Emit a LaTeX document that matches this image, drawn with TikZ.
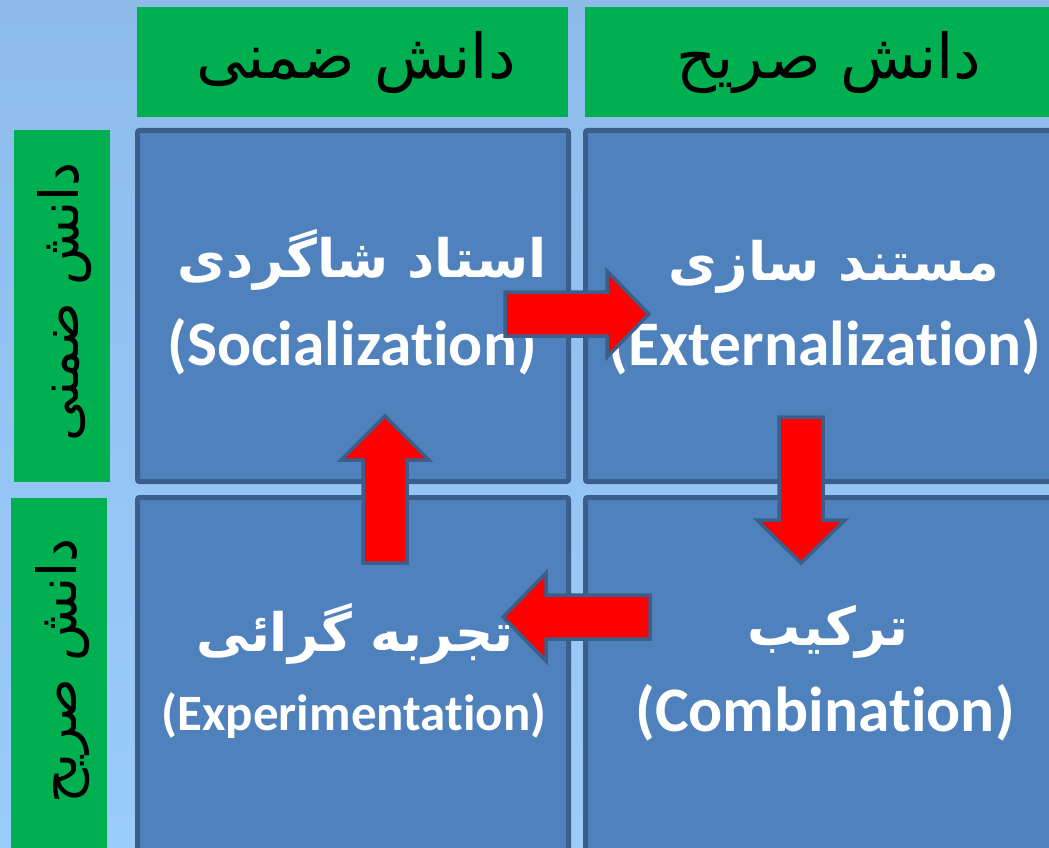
\documentclass[tikz,border=0pt]{standalone}
\usepackage{fontspec}
\TeXXeTstate=1
\newfontfamily\fafont[Script=Arabic]{DejaVu Sans}
\newfontfamily\enfont[Ligatures=NoCommon]{Carlito}
\definecolor{bgtop}{HTML}{8DBCEB}
\definecolor{bgbot}{HTML}{9ACCFA}
\definecolor{hdrgreen}{HTML}{00B050}
\definecolor{cellblue}{HTML}{4F81BD}
\definecolor{cellborder}{HTML}{3A5F8B}
\definecolor{arrowred}{HTML}{FF0000}
\tikzset{
  hdrbox/.style={fill=hdrgreen, draw=none},
  cellbox/.style={fill=cellblue, draw=cellborder, line width=5pt, rounded corners=2pt},
  hdrtext/.style={anchor=base, text=black, inner sep=0pt, font=\fafont\fontsize{62}{66}\selectfont},
  sidetext/.style={anchor=base, text=black, inner sep=0pt, rotate=90, font=\fafont\fontsize{54}{58}\selectfont},
  fatext/.style={anchor=base, text=white, inner sep=0pt, font=\fafont\bfseries\fontsize{53}{58}\selectfont},
  entext/.style={anchor=base, text=white, inner sep=0pt, font=\enfont\bfseries\fontsize{63.5}{68}\selectfont},
  ensmall/.style={anchor=base, text=white, inner sep=0pt, font=\enfont\bfseries\fontsize{51}{55}\selectfont},
  blockarrow/.style={fill=arrowred, draw=cellborder, line width=3.5pt, miter limit=10}
}
\begin{document}
\begin{tikzpicture}[x=1pt,y=-1pt]
\useasboundingbox (0,0) rectangle (1049,848);
\shade[top color=bgtop, bottom color=bgbot] (0,0) rectangle (1049,848);
% headers
\fill[hdrbox] (137,7) rectangle (568,117);
\fill[hdrbox] (585,7) rectangle (1049,117);
\fill[hdrbox] (14,130) rectangle (110,482);
\fill[hdrbox] (11,498) rectangle (107,848);
% cells
\draw[cellbox] (137.5,130.5) rectangle (568.5,481.5);
\draw[cellbox] (585.5,130.5) rectangle (1080,481.5);
\draw[cellbox] (137.5,497.5) rectangle (568.5,880);
\draw[cellbox] (585.5,497.5) rectangle (1080,880);
% header texts
\node[hdrtext] (h1) at (356,79) {\beginR دانش ضمنی\endR};
\node[hdrtext] (h2) at (829,79) {\beginR دانش صریح\endR};
\node[sidetext] (s1) at (78,302) {\beginR دانش ضمنی\endR};
\node[sidetext] (s2) at (76,671) {\beginR دانش صریح\endR};
% cell texts
\node[fatext] (t1) at (362,277) {\beginR استاد شاگردی\endR};
\node[entext] (e1) at (352,365) {(Socialization)};
\node[fatext] (t2) at (834,280) {\beginR مستند سازی\endR};
\node[entext] (e2) at (825,365) {(Externalization)};
\node[fatext] (t3) at (828,645) {\beginR ترکیب\endR};
\node[entext] (e3) at (825,731) {(Combination)};
\node[fatext] (t4) at (355,651) {\beginR تجربه گرائی\endR};
\node[ensmall] (e4) at (354,730) {(Experimentation)};
% arrows
\draw[blockarrow] (505,292) -- (607,292) -- (607,271) -- (649,314) -- (607,357) -- (607,336) -- (505,336) -- cycle;
\draw[blockarrow] (779,417) -- (823,417) -- (823,520) -- (845,520) -- (801,563) -- (757,520) -- (779,520) -- cycle;
\draw[blockarrow] (650,595) -- (650,639) -- (546,639) -- (546,661) -- (503,617) -- (546,573) -- (546,595) -- cycle;
\draw[blockarrow] (363,563) -- (363,460) -- (341,460) -- (385,416) -- (429,460) -- (407,460) -- (407,563) -- cycle;
\end{tikzpicture}
\end{document}
